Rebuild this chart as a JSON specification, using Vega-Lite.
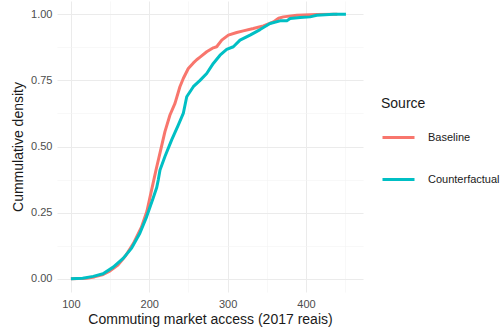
{
  "$schema": "https://vega.github.io/schema/vega-lite/v6.json",
  "width": 306,
  "height": 291,
  "autosize": {"type": "none"},
  "padding": {"left": 57, "top": 1, "right": 138, "bottom": 39},
  "background": "white",
  "config": {
    "view": {"stroke": null},
    "font": "Liberation Sans"
  },
  "data": {
    "values": [
      {"Source": "Baseline", "x": 100, "y": 0},
      {"Source": "Baseline", "x": 120, "y": 0.002},
      {"Source": "Baseline", "x": 130, "y": 0.007},
      {"Source": "Baseline", "x": 140, "y": 0.015},
      {"Source": "Baseline", "x": 150, "y": 0.03},
      {"Source": "Baseline", "x": 160, "y": 0.052},
      {"Source": "Baseline", "x": 170, "y": 0.088},
      {"Source": "Baseline", "x": 180, "y": 0.135},
      {"Source": "Baseline", "x": 190, "y": 0.195},
      {"Source": "Baseline", "x": 197, "y": 0.255},
      {"Source": "Baseline", "x": 203, "y": 0.336},
      {"Source": "Baseline", "x": 208.6, "y": 0.411},
      {"Source": "Baseline", "x": 214.6, "y": 0.487},
      {"Source": "Baseline", "x": 220, "y": 0.556},
      {"Source": "Baseline", "x": 226.4, "y": 0.619},
      {"Source": "Baseline", "x": 232.8, "y": 0.663},
      {"Source": "Baseline", "x": 239.1, "y": 0.726},
      {"Source": "Baseline", "x": 243.4, "y": 0.757},
      {"Source": "Baseline", "x": 249.8, "y": 0.795},
      {"Source": "Baseline", "x": 256, "y": 0.815},
      {"Source": "Baseline", "x": 260.5, "y": 0.828},
      {"Source": "Baseline", "x": 264.8, "y": 0.838},
      {"Source": "Baseline", "x": 273.3, "y": 0.858},
      {"Source": "Baseline", "x": 281.7, "y": 0.873},
      {"Source": "Baseline", "x": 286, "y": 0.877},
      {"Source": "Baseline", "x": 292.5, "y": 0.902},
      {"Source": "Baseline", "x": 300.9, "y": 0.921},
      {"Source": "Baseline", "x": 311.6, "y": 0.931},
      {"Source": "Baseline", "x": 320, "y": 0.937},
      {"Source": "Baseline", "x": 332.8, "y": 0.946},
      {"Source": "Baseline", "x": 345.6, "y": 0.956},
      {"Source": "Baseline", "x": 358.4, "y": 0.971},
      {"Source": "Baseline", "x": 365, "y": 0.985},
      {"Source": "Baseline", "x": 371.1, "y": 0.99},
      {"Source": "Baseline", "x": 388.3, "y": 0.996},
      {"Source": "Baseline", "x": 413.8, "y": 0.999},
      {"Source": "Baseline", "x": 440, "y": 1.0},
      {"Source": "Counterfactual", "x": 100, "y": 0},
      {"Source": "Counterfactual", "x": 115, "y": 0.002},
      {"Source": "Counterfactual", "x": 128.5, "y": 0.009},
      {"Source": "Counterfactual", "x": 141, "y": 0.019},
      {"Source": "Counterfactual", "x": 154, "y": 0.044},
      {"Source": "Counterfactual", "x": 167, "y": 0.078},
      {"Source": "Counterfactual", "x": 177.5, "y": 0.116},
      {"Source": "Counterfactual", "x": 188, "y": 0.172},
      {"Source": "Counterfactual", "x": 196.7, "y": 0.235},
      {"Source": "Counterfactual", "x": 205, "y": 0.305},
      {"Source": "Counterfactual", "x": 209.5, "y": 0.345},
      {"Source": "Counterfactual", "x": 211.5, "y": 0.374},
      {"Source": "Counterfactual", "x": 213.7, "y": 0.411},
      {"Source": "Counterfactual", "x": 220, "y": 0.462},
      {"Source": "Counterfactual", "x": 228.6, "y": 0.525},
      {"Source": "Counterfactual", "x": 237, "y": 0.581},
      {"Source": "Counterfactual", "x": 243.4, "y": 0.625},
      {"Source": "Counterfactual", "x": 247.8, "y": 0.688},
      {"Source": "Counterfactual", "x": 256.2, "y": 0.726},
      {"Source": "Counterfactual", "x": 264.8, "y": 0.75},
      {"Source": "Counterfactual", "x": 273.3, "y": 0.776},
      {"Source": "Counterfactual", "x": 281.7, "y": 0.814},
      {"Source": "Counterfactual", "x": 290.3, "y": 0.845},
      {"Source": "Counterfactual", "x": 298.8, "y": 0.867},
      {"Source": "Counterfactual", "x": 307.3, "y": 0.877},
      {"Source": "Counterfactual", "x": 315.8, "y": 0.902},
      {"Source": "Counterfactual", "x": 328.6, "y": 0.921},
      {"Source": "Counterfactual", "x": 341.4, "y": 0.942},
      {"Source": "Counterfactual", "x": 354.1, "y": 0.965},
      {"Source": "Counterfactual", "x": 366.9, "y": 0.975},
      {"Source": "Counterfactual", "x": 375.5, "y": 0.975},
      {"Source": "Counterfactual", "x": 379.7, "y": 0.984},
      {"Source": "Counterfactual", "x": 392.5, "y": 0.988},
      {"Source": "Counterfactual", "x": 405.2, "y": 0.99},
      {"Source": "Counterfactual", "x": 413.8, "y": 0.996},
      {"Source": "Counterfactual", "x": 435, "y": 1.0},
      {"Source": "Counterfactual", "x": 451, "y": 1.0}
    ]
  },
  "mark": {"type": "line", "strokeWidth": 3, "strokeJoin": "round"},
  "encoding": {
    "x": {
      "field": "x",
      "type": "quantitative",
      "scale": {"domain": [82.25, 472.75], "nice": false, "zero": false},
      "axis": {
        "title": "Commuting market access (2017 reais)",
        "values": [100, 150, 200, 250, 300, 350, 400, 450],
        "labelExpr": "datum.value % 100 === 0 ? datum.label : ''",
        "labelOverlap": false,
        "domain": false,
        "ticks": false,
        "grid": true,
        "gridColor": {"condition": {"test": "datum.value % 100 !== 0", "value": "#F4F4F4"}, "value": "#EBEBEB"},
        "gridWidth": {"condition": {"test": "datum.value % 100 !== 0", "value": 0.6}, "value": 1},
        "labelFont": "Liberation Sans",
        "labelFontSize": 11,
        "labelColor": "#4D4D4D",
        "labelPadding": 6,
        "titleFont": "Liberation Sans",
        "titleFontSize": 14,
        "titleFontWeight": "normal",
        "titleColor": "#1A1A1A",
        "titlePadding": 3
      }
    },
    "y": {
      "field": "y",
      "type": "quantitative",
      "scale": {"domain": [-0.05, 1.05], "nice": false, "zero": false},
      "axis": {
        "title": "Cummulative density",
        "values": [0, 0.125, 0.25, 0.375, 0.5, 0.625, 0.75, 0.875, 1],
        "labelExpr": "(datum.value * 4) % 1 === 0 ? format(datum.value, '.2f') : ''",
        "labelOverlap": false,
        "domain": false,
        "ticks": false,
        "grid": true,
        "gridColor": {"condition": {"test": "(datum.value * 4) % 1 !== 0", "value": "#F4F4F4"}, "value": "#EBEBEB"},
        "gridWidth": {"condition": {"test": "(datum.value * 4) % 1 !== 0", "value": 0.6}, "value": 1},
        "labelFont": "Liberation Sans",
        "labelFontSize": 11,
        "labelColor": "#4D4D4D",
        "labelPadding": 5,
        "titleFont": "Liberation Sans",
        "titleFontSize": 14,
        "titleFontWeight": "normal",
        "titleColor": "#1A1A1A",
        "titleAngle": -90,
        "titleAlign": "center",
        "titleBaseline": "middle",
        "titleX": -39,
        "titleY": 145.5
      }
    },
    "color": {
      "field": "Source",
      "type": "nominal",
      "scale": {"domain": ["Baseline", "Counterfactual"], "range": ["#F8766D", "#00BFC4"]},
      "legend": {
        "orient": "none",
        "legendX": 324,
        "legendY": 96,
        "title": "Source",
        "titleFont": "Liberation Sans",
        "titleFontSize": 14,
        "titleFontWeight": "normal",
        "titleColor": "#1A1A1A",
        "titlePadding": 9,
        "symbolType": "stroke",
        "symbolSize": 1024,
        "symbolStrokeWidth": 3,
        "labelFont": "Liberation Sans",
        "labelFontSize": 11,
        "labelColor": "#1A1A1A",
        "labelOffset": 12,
        "rowPadding": 18
      }
    }
  }
}
